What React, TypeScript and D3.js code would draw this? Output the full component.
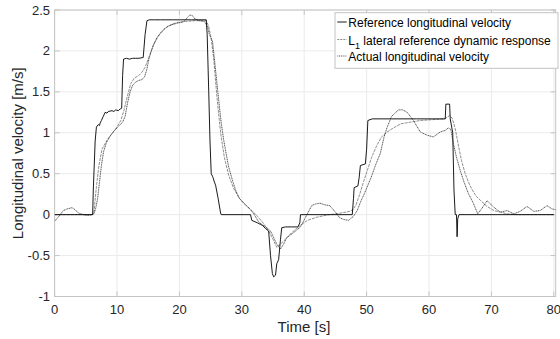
import React from "react";
import * as d3 from "d3";

const xTicks = [0, 10, 20, 30, 40, 50, 60, 70, 80];
const yTicks = [-1, -0.5, 0, 0.5, 1, 1.5, 2, 2.5];
const yTickLabels = ["-1", "-0.5", "0", "0.5", "1", "1.5", "2", "2.5"];

const legendLabels = [
  "Reference longitudinal velocity",
  "lateral reference dynamic response",
  "Actual longitudinal velocity",
];

// Reference longitudinal velocity
const refT = [0, 6.1, 6.2, 6.5, 6.7, 7.0, 7.2, 7.3, 7.5, 7.8, 8.1, 8.4, 8.6, 9.2, 9.5, 9.8, 10.2, 10.5, 10.75, 10.9, 11.05, 11.5, 12.0, 12.5, 13.0, 13.5, 14.2, 14.5, 14.8, 15.2, 16, 17, 18, 19, 20, 21, 22, 23, 24.3, 24.45, 24.7, 24.9, 25.1, 25.3, 25.4, 25.6, 25.8, 26.2, 26.6, 26.7, 31.4, 31.6, 32.5, 33.0, 33.3, 33.8, 34.3, 34.6, 34.9, 35.1, 35.4, 35.6, 35.9, 36.2, 36.4, 37, 38, 39, 39.3, 39.4, 47.7, 47.9, 48.0, 48.6, 48.8, 49.0, 49.8, 50.0, 50.2, 50.9, 52, 54, 56, 58, 60, 62.6, 62.7, 63.3, 63.4, 63.8, 64.0, 64.2, 64.4, 64.5, 64.6, 64.8, 80];
const refV = [0, 0, 0.3, 0.9, 1.07, 1.1, 1.09, 1.12, 1.15, 1.2, 1.25, 1.24, 1.26, 1.27, 1.26, 1.28, 1.27, 1.29, 1.3, 1.7, 1.9, 1.91, 1.9, 1.91, 1.91, 1.91, 1.92, 2.2, 2.37, 2.38, 2.38, 2.38, 2.38, 2.38, 2.38, 2.38, 2.38, 2.38, 2.38, 2.2, 1.5, 0.9, 0.5, 0.47, 0.45, 0.4, 0.36, 0.2, 0.02, 0, 0, -0.07, -0.1, -0.12, -0.13, -0.17, -0.2, -0.5, -0.72, -0.76, -0.74, -0.6, -0.55, -0.3, -0.16, -0.15, -0.15, -0.15, -0.1, 0, 0, 0.2, 0.33, 0.35, 0.45, 0.6, 0.62, 0.8, 1.15, 1.17, 1.17, 1.17, 1.17, 1.17, 1.17, 1.17, 1.35, 1.35, 1.17, 1.0, 0.3, 0, 0, -0.27, -0.05, 0, 0];

// L1 lateral reference dynamic response
const l1T = [0, 6.0, 6.3, 6.7, 7.1, 7.6, 8.4, 9.2, 10.0, 10.6, 11.1, 11.6, 12.2, 12.8, 13.5, 14.0, 14.5, 15.3, 15.8, 16.4, 17.0, 17.5, 18.2, 18.9, 19.8, 21.0, 22.5, 24.3, 24.7, 25.1, 25.5, 26.0, 26.6, 27.2, 27.9, 28.7, 29.6, 30.6, 31.6, 32.5, 33.4, 34.3, 35.0, 35.6, 36.2, 37.0, 38.0, 39.4, 40.5, 42.1, 44.0, 45.2, 47.3, 47.8, 48.3, 48.9, 49.5, 50.2, 50.8, 51.6, 52.4, 53.3, 54.3, 55.5, 57.0, 58.6, 60.5, 62.5, 63.3, 63.7, 64.2, 64.7, 65.2, 65.8, 66.3, 66.8, 67.5, 68.3, 69.3, 70.4, 71.5, 72.5, 74, 80];
const l1V = [0, 0, 0.03, 0.34, 0.6, 0.8, 0.91, 0.99, 1.07, 1.15, 1.27, 1.43, 1.6, 1.67, 1.7, 1.74, 1.8, 1.96, 2.07, 2.16, 2.22, 2.26, 2.3, 2.33, 2.35, 2.36, 2.37, 2.37, 2.3, 2.15, 1.9, 1.45, 1.0, 0.7, 0.48, 0.32, 0.2, 0.12, 0.05, -0.02, -0.1, -0.2, -0.3, -0.4, -0.36, -0.3, -0.22, -0.13, -0.07, -0.03, 0.0, 0.01, 0.04, 0.06, 0.12, 0.25, 0.4, 0.56, 0.7, 0.84, 0.95, 1.01, 1.06, 1.11, 1.13, 1.15, 1.16, 1.17, 1.21, 1.18, 1.05, 0.85, 0.66, 0.5, 0.4, 0.32, 0.23, 0.17, 0.1, 0.05, 0.03, 0.01, 0, 0];

// Actual longitudinal velocity
const actT = [0, 0.7, 1.4, 2.0, 2.8, 3.3, 3.8, 4.6, 5.2, 6.0, 6.3, 6.6, 6.9, 7.2, 7.5, 7.85, 8.3, 8.9, 9.5, 10.0, 10.5, 10.9, 11.3, 11.7, 12.1, 12.5, 13.0, 13.5, 14.0, 14.4, 14.8, 15.1, 15.5, 15.9, 16.5, 17.0, 17.6, 18.1, 18.8, 19.7, 20.4, 20.9, 21.3, 21.7, 22.1, 22.5, 23.2, 24.0, 24.5, 24.8, 25.3, 25.75, 26.3, 26.7, 27.1, 27.5, 27.9, 28.5, 29.0, 29.6, 30.3, 31.4, 32.0, 32.7, 33.4, 34.0, 34.6, 35.1, 35.6, 36.2, 36.7, 37.2, 38.3, 39.4, 40.3, 41.2, 41.8, 42.5, 43.3, 44.1, 44.9, 45.7, 46.4, 47.1, 47.9, 48.5, 49.0, 49.6, 50.1, 50.7, 51.4, 52.2, 52.8, 53.3, 54.0, 55.1, 55.8, 56.5, 57.5, 58.6, 59.7, 60.7, 61.8, 62.6, 63.1, 63.5, 63.9, 64.4, 65.0, 65.6, 66.3, 67.1, 67.8, 68.5, 69.3, 70.4, 71.4, 72.5, 73.6, 74.6, 75.7, 76.8, 77.8, 78.9, 79.7, 80.3];
const actV = [-0.08, -0.02, 0.05, 0.07, 0.085, 0.06, 0.02, 0.0, -0.01, 0.0, 0.01, 0.08, 0.2, 0.4, 0.6, 0.77, 0.88, 0.96, 1.02, 1.06, 1.1, 1.13, 1.2, 1.37, 1.5, 1.58, 1.62, 1.64, 1.65, 1.68, 1.78, 1.9, 2.0, 2.08, 2.17, 2.22, 2.27, 2.3, 2.32, 2.34, 2.35, 2.37, 2.41, 2.44, 2.43, 2.39, 2.37, 2.36, 2.3, 2.2, 2.12, 1.8, 1.4, 1.12, 0.91, 0.74, 0.58, 0.42, 0.3, 0.2, 0.14, 0.06, 0.0, -0.09, -0.13, -0.16, -0.2, -0.28, -0.36, -0.42, -0.36, -0.28, -0.22, -0.15, -0.02, 0.11, 0.13, 0.14, 0.12, 0.11, 0.04, -0.04, -0.06, -0.07, -0.02, 0.05, 0.15, 0.25, 0.34, 0.45, 0.6, 0.75, 0.95, 1.07, 1.2, 1.28, 1.28, 1.25, 1.15, 1.01, 0.97, 0.95, 1.01, 1.03, 1.06, 1.04, 0.87, 0.7, 0.54, 0.4, 0.26, 0.14, 0.01, 0.08, 0.17, 0.09, 0.03, 0.05, 0.01, 0.04, 0.1, 0.04, 0.05, 0.11, 0.07, 0.06];

const W = 560;
const H = 339;
const L = 54.6;
const R = 555.7;
const T = 10;
const B = 296.5;
const FONT = "'Liberation Sans', Arial, Helvetica, sans-serif";

export default function App() {
  const x = d3.scaleLinear().domain([0, 80.3]).range([L, R]);
  const y = d3.scaleLinear().domain([-1, 2.5]).range([B, T]);
  const line = d3
    .line<[number, number]>()
    .x((d) => x(d[0]))
    .y((d) => y(d[1]));
  const toPts = (t: number[], v: number[]) =>
    t.map((tt, i) => [tt, v[i]] as [number, number]);

  const frame = "#c4c4c4";
  const grid = "#ebebeb";
  const txt = "#262626";
  const tickLen = 5;

  const legX = 335;
  const legY = 12.7;
  const legW = 223;
  const legH = 55.6;
  const rows = [27, 44.5, 61];

  return (
    <svg
      width={W}
      height={H}
      style={{ position: "absolute", left: 0, top: 0, background: "#fff" }}
      fontFamily={FONT}
    >
      <rect x={0} y={0} width={W} height={H} fill="#fff" />
      <defs>
        <clipPath id="clipPlot">
          <rect x={L} y={T} width={R - L} height={B - T} />
        </clipPath>
      </defs>
      {/* grid */}
      {xTicks.map((t) => (
        <line key={"gx" + t} x1={x(t)} x2={x(t)} y1={T} y2={B} stroke={grid} strokeWidth={1} />
      ))}
      {yTicks.map((t) => (
        <line key={"gy" + t} x1={L} x2={R} y1={y(t)} y2={y(t)} stroke={grid} strokeWidth={1} />
      ))}
      {/* frame */}
      <rect x={L} y={T} width={R - L} height={B - T} fill="none" stroke={frame} strokeWidth={1} />
      {xTicks.map((t) => (
        <g key={"tx" + t}>
          <line x1={x(t)} x2={x(t)} y1={B} y2={B - tickLen} stroke={frame} />
          <line x1={x(t)} x2={x(t)} y1={T} y2={T + tickLen} stroke={frame} />
          <text x={x(t)} y={313.5} fontSize={13} fill={txt} textAnchor="middle">
            {t}
          </text>
        </g>
      ))}
      {yTicks.map((t, i) => (
        <g key={"ty" + t}>
          <line x1={L} x2={L + tickLen} y1={y(t)} y2={y(t)} stroke={frame} />
          <line x1={R} x2={R - tickLen} y1={y(t)} y2={y(t)} stroke={frame} />
          <text x={50} y={y(t)} dy="0.35em" fontSize={13} fill={txt} textAnchor="end">
            {yTickLabels[i]}
          </text>
        </g>
      ))}
      {/* axis labels */}
      <text x={304} y={332} fontSize={15} fill={txt} textAnchor="middle">
        Time [s]
      </text>
      <text
        transform={`translate(23,${(T + B) / 2}) rotate(-90)`}
        fontSize={15}
        fill={txt}
        textAnchor="middle"
      >
        Longitudinal velocity [m/s]
      </text>

      {/* series */}
      <g clipPath="url(#clipPlot)">
        <path d={line(toPts(l1T, l1V)) || ""} fill="none" stroke="#808080" strokeWidth={0.9} strokeDasharray="3 1" />
        <path d={line(toPts(actT, actV)) || ""} fill="none" stroke="#2a2a2a" strokeWidth={0.8} strokeDasharray="1.2 0.6" />
        <path d={line(toPts(refT, refV)) || ""} fill="none" stroke="#000" strokeWidth={0.9} />
      </g>

      {/* legend */}
      <rect x={legX} y={legY} width={legW} height={legH} fill="#fff" stroke={frame} strokeWidth={1} />
      <line x1={337.3} x2={346.7} y1={rows[0] - 5} y2={rows[0] - 5} stroke="#000" strokeWidth={0.9} />
      <line x1={337.3} x2={346.7} y1={rows[1] - 5} y2={rows[1] - 5} stroke="#808080" strokeWidth={0.9} strokeDasharray="2 1" />
      <line x1={337.3} x2={346.7} y1={rows[2] - 5} y2={rows[2] - 5} stroke="#2a2a2a" strokeWidth={0.8} strokeDasharray="1 0.8" />
      <text x={348.3} y={rows[0]} fontSize={12} fill="#000">
        {legendLabels[0]}
      </text>
      <text x={348.3} y={rows[1]} fontSize={12} fill="#000">
        <tspan>L</tspan>
        <tspan dy={4} fontSize={9}>1</tspan>
        <tspan dy={-4}>{" " + legendLabels[1]}</tspan>
      </text>
      <text x={348.3} y={rows[2]} fontSize={12} fill="#000">
        {legendLabels[2]}
      </text>
    </svg>
  );
}
